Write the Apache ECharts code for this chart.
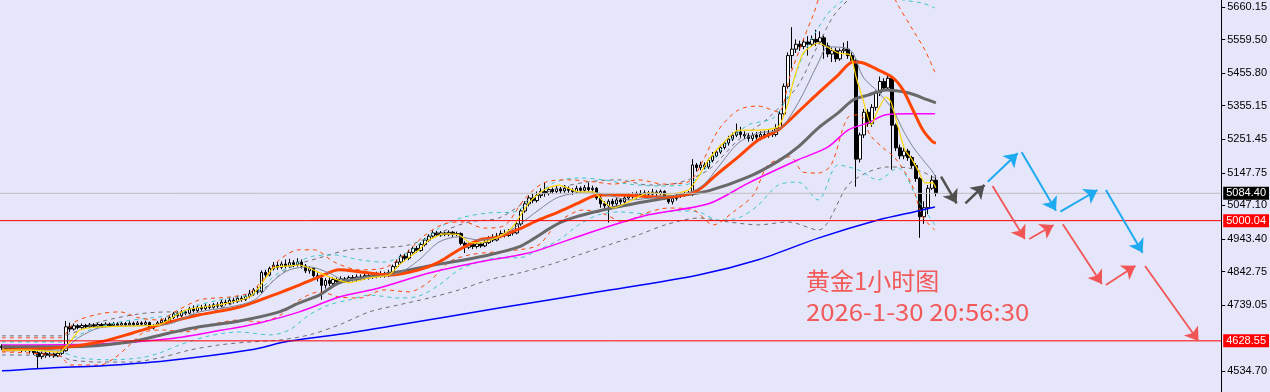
<!DOCTYPE html>
<html>
<head>
<meta charset="utf-8">
<script src="https://cdn.jsdelivr.net/npm/echarts@6.0.0/dist/echarts.min.js"></script>
<style>
html,body{margin:0;padding:0;background:#E6E6FA;}
#chart{width:1270px;height:392px;}
</style>
</head>
<body>
<div id="chart"></div>
<script>
// ---------- DATA ----------
const slotCount = 306; // hourly slots across the plot (235 bars + empty future space)
const categories = Array.from({length: slotCount}, (_, i) => 'H' + i);

// candles: [open, close, low, high]
const candles = [
[4608,4612,4600,4618],[4612,4605,4598,4616],[4605,4610,4600,4615],[4610,4603,4596,4614],[4603,4608,4598,4613],
[4608,4600,4594,4612],[4600,4606,4595,4612],[4606,4598,4590,4610],[4598,4592,4585,4604],[4592,4580,4542,4600],
[4580,4590,4572,4596],[4590,4584,4576,4595],[4584,4588,4578,4594],[4588,4582,4576,4592],[4582,4590,4578,4596],
[4590,4598,4585,4604],[4598,4672,4595,4690],[4672,4665,4655,4685],[4665,4675,4660,4682],[4675,4670,4664,4680],
[4670,4676,4666,4682],[4676,4672,4667,4681],[4672,4678,4668,4684],[4678,4674,4668,4683],[4674,4679,4670,4685],
[4679,4674,4669,4684],[4674,4680,4670,4686],[4680,4676,4671,4685],[4676,4681,4672,4687],[4681,4677,4672,4686],
[4677,4682,4673,4688],[4682,4678,4673,4687],[4678,4683,4674,4689],[4683,4679,4674,4688],[4679,4684,4675,4690],
[4684,4680,4675,4689],[4680,4685,4676,4691],[4685,4668,4664,4688],[4668,4676,4664,4680],[4676,4684,4672,4690],
[4684,4692,4680,4698],[4692,4688,4682,4700],[4688,4700,4684,4706],[4700,4712,4696,4718],[4712,4706,4700,4720],
[4706,4718,4702,4724],[4718,4714,4708,4722],[4714,4728,4710,4734],[4728,4722,4716,4738],[4722,4732,4718,4740],
[4732,4728,4722,4740],[4728,4736,4724,4744],[4736,4732,4726,4742],[4732,4740,4728,4746],[4740,4736,4730,4748],
[4736,4748,4732,4756],[4748,4744,4738,4756],[4744,4754,4740,4762],[4754,4750,4744,4762],[4750,4760,4746,4768],
[4760,4756,4750,4768],[4756,4766,4752,4772],[4766,4774,4760,4786],[4774,4786,4768,4792],[4786,4780,4772,4796],
[4780,4840,4776,4846],[4840,4832,4820,4848],[4832,4852,4828,4858],[4852,4862,4846,4872],[4862,4856,4848,4872],
[4856,4866,4850,4874],[4866,4860,4852,4880],[4860,4870,4854,4882],[4870,4864,4856,4878],[4864,4872,4858,4884],
[4872,4860,4852,4880],[4860,4845,4838,4866],[4845,4852,4836,4858],[4852,4830,4824,4856],[4830,4822,4812,4840],
[4822,4800,4756,4826],[4800,4815,4790,4822],[4815,4806,4798,4825],[4806,4818,4800,4826],[4818,4812,4804,4824],
[4812,4820,4806,4828],[4820,4815,4808,4826],[4815,4824,4810,4830],[4824,4818,4812,4832],[4818,4826,4812,4834],
[4826,4822,4815,4834],[4822,4830,4817,4838],[4830,4825,4818,4836],[4825,4832,4820,4840],[4832,4828,4822,4842],
[4828,4836,4824,4844],[4836,4830,4824,4842],[4830,4840,4826,4848],[4840,4858,4836,4864],[4858,4872,4852,4880],
[4872,4890,4866,4896],[4890,4884,4876,4898],[4884,4902,4878,4910],[4902,4914,4896,4920],[4914,4908,4900,4922],
[4908,4926,4904,4934],[4926,4940,4920,4946],[4940,4952,4934,4958],[4952,4962,4946,4970],[4962,4956,4950,4968],
[4956,4962,4950,4968],[4962,4958,4952,4966],[4958,4964,4952,4970],[4964,4958,4950,4968],[4958,4960,4952,4966],
[4960,4930,4924,4964],[4930,4918,4900,4936],[4918,4926,4912,4932],[4926,4920,4912,4930],[4920,4928,4914,4934],
[4928,4922,4916,4934],[4922,4932,4918,4940],[4932,4946,4928,4952],[4946,4940,4934,4958],[4940,4952,4936,4962],
[4952,4960,4946,4970],[4960,4954,4948,4972],[4954,4966,4950,4974],[4966,4962,4954,4972],[4962,4990,4958,4996],
[4990,5030,4984,5036],[5030,5052,5024,5060],[5052,5070,5044,5078],[5070,5062,5054,5084],[5062,5078,5056,5090],
[5078,5090,5070,5100],[5090,5084,5074,5118],[5084,5096,5078,5104],[5096,5090,5082,5102],[5090,5098,5084,5108],
[5098,5092,5084,5104],[5092,5100,5086,5110],[5100,5094,5086,5106],[5094,5090,5080,5100],[5090,5100,5084,5108],
[5100,5094,5088,5106],[5094,5102,5088,5110],[5102,5096,5088,5118],[5096,5100,5086,5108],[5100,5070,5064,5104],
[5070,5052,5040,5076],[5052,5046,5030,5060],[5046,5060,4994,5066],[5060,5052,5044,5068],[5052,5064,5046,5070],
[5064,5058,5050,5068],[5058,5070,5052,5076],[5070,5078,5064,5084],[5078,5074,5068,5088],[5074,5084,5068,5090],
[5084,5080,5074,5094],[5080,5086,5076,5094],[5086,5082,5076,5092],[5082,5088,5078,5098],[5088,5084,5076,5094],
[5084,5090,5078,5096],[5090,5070,5064,5094],[5070,5058,5052,5076],[5058,5068,5050,5074],[5068,5076,5062,5082],
[5076,5080,5070,5088],[5080,5084,5074,5090],[5084,5082,5076,5092],[5082,5172,5076,5190],[5172,5164,5152,5178],
[5164,5172,5156,5182],[5172,5166,5158,5180],[5166,5186,5160,5192],[5186,5200,5180,5212],[5200,5212,5196,5220],
[5212,5226,5206,5234],[5226,5240,5220,5246],[5240,5252,5232,5262],[5252,5264,5246,5272],[5264,5274,5258,5300],
[5274,5266,5256,5290],[5266,5262,5252,5276],[5262,5254,5244,5270],[5254,5264,5246,5272],[5264,5258,5250,5274],
[5258,5266,5248,5276],[5266,5262,5254,5278],[5262,5270,5256,5282],[5270,5266,5258,5280],[5266,5284,5260,5298],
[5284,5330,5278,5340],[5330,5415,5324,5424],[5415,5510,5408,5520],[5510,5530,5470,5598],[5530,5545,5518,5560],
[5545,5538,5525,5556],[5538,5552,5530,5562],[5552,5545,5510,5570],[5545,5560,5538,5572],[5560,5552,5540,5590],
[5552,5565,5545,5585],[5565,5540,5500,5572],[5540,5515,5505,5550],[5515,5525,5490,5535],[5525,5500,5490,5535],
[5500,5525,5494,5532],[5525,5530,5515,5550],[5530,5510,5500,5555],[5510,5495,5488,5520],[5495,5190,5105,5500],
[5190,5265,5180,5272],[5265,5335,5255,5345],[5335,5300,5290,5345],[5300,5350,5290,5360],[5350,5395,5340,5402],
[5395,5430,5385,5445],[5430,5410,5400,5440],[5410,5440,5402,5450],[5440,5295,5157,5446],[5295,5225,5215,5300],
[5225,5200,5190,5235],[5200,5215,5190,5225],[5215,5195,5185,5222],[5195,5170,5160,5200],[5170,5130,5120,5178],
[5130,5012,4947,5135],[5012,5040,4990,5060],[5040,5100,5020,5110],[5100,5125,5095,5140],[5125,5084.4,5075,5140]
];

// indicator lines: [bar index, price]
const yellowMA = [[0,4600],[7,4600],[14.5,4594],[17,4625],[19.5,4662],[24.5,4672],[34.5,4675],[39.5,4678],[46,4724],[54.5,4740],[62,4764],[64.5,4795],[68,4854],[72,4860],[74.5,4863],[78,4848],[82,4826],[87,4808],[92,4823],[97,4832],[99.5,4863],[104.5,4910],[107,4940],[110.75,4959],[114.5,4956],[117,4934],[119.5,4931],[124.5,4950],[128,4981],[132,5055],[135.75,5095],[139.5,5110],[144.5,5089],[148.25,5089],[150.75,5058],[153.25,5039],[157,5058],[162,5086],[167,5082],[172,5095],[174.5,5135],[177,5188],[180.75,5240],[184.5,5280],[189.5,5280],[194.5,5290],[197,5364],[198.25,5429],[200.75,5518],[204.5,5549],[209.5,5518],[212.5,5512],[214,5444],[215.75,5373],[217.75,5296],[219.5,5342],[221.5,5382],[222.75,5367],[224.5,5290],[226.25,5218],[227.75,5194],[229.5,5157],[231.25,5117],[233.25,5117],[234,5101]];
const grayMA = [[0,4600],[14.5,4600],[19.5,4641],[24.5,4669],[32,4675],[40.75,4678],[49.5,4718],[57,4733],[63.25,4755],[68.25,4817],[72,4848],[77,4857],[82,4838],[85.75,4817],[92,4826],[99.5,4838],[104.5,4879],[109.5,4934],[114.5,4950],[119.5,4940],[124.5,4950],[129.5,4987],[134.5,5033],[139.5,5073],[147,5089],[152,5079],[157,5064],[164.5,5073],[172,5086],[175.75,5110],[179.5,5166],[184.5,5240],[189.5,5271],[194.5,5280],[199.5,5364],[204.5,5487],[207,5537],[211.25,5534],[213.25,5518],[215.75,5444],[219.5,5398],[223.25,5342],[225.75,5280],[228.25,5228],[230.75,5188],[233.25,5150],[234,5132]];
const orangeMA = [[0,4600],[14.5,4607],[24.5,4625],[32.75,4653],[41.25,4684],[49.5,4709],[59.5,4733],[69.5,4777],[74.5,4801],[79.5,4826],[84.5,4848],[89.5,4842],[97,4832],[104.5,4848],[109.5,4872],[114.5,4910],[119.5,4940],[124.5,4950],[129.5,4974],[134.5,5002],[139.5,5027],[144.5,5055],[149.5,5079],[154.5,5079],[164.5,5073],[169.5,5076],[174.5,5095],[179.5,5147],[184.5,5197],[189.5,5249],[194.5,5280],[199.5,5336],[204.5,5394],[209.5,5450],[213.25,5490],[215.75,5487],[219.5,5466],[223.25,5441],[225.75,5404],[228.25,5342],[230.75,5280],[233.25,5243],[234,5240]];
const dimMA = [[0,4610],[16.25,4610],[32,4625],[42,4653],[49.5,4672],[59.5,4690],[69.5,4718],[74.5,4746],[79.5,4770],[84.5,4808],[92,4826],[99.5,4842],[107,4860],[114.5,4876],[122,4894],[129.5,4919],[132,4935],[140.25,4996],[149.5,5030],[159.5,5055],[169.5,5076],[177,5092],[187,5135],[194.5,5184],[199.5,5228],[204.5,5286],[209.5,5333],[213.25,5373],[217,5388],[221.5,5404],[227,5395],[232,5373],[234,5364]];
const magentaMA = [[0,4616],[24.5,4619],[42,4635],[55.25,4662],[64.5,4684],[74.5,4718],[84.5,4764],[94.5,4792],[107,4838],[119.5,4872],[129.5,4894],[134.5,4909],[147.75,4965],[162,5018],[177,5052],[187,5116],[199.5,5188],[207,5228],[212,5280],[217,5302],[221.5,5327],[227,5330],[233.75,5330]];
const blueMA = [[0,4536],[12,4545],[24.5,4551],[41.25,4567],[62,4600],[72,4628],[87,4653],[99.5,4678],[124.5,4730],[149.5,4780],[174.5,4832],[189.5,4879],[204.5,4946],[219.5,5002],[229.5,5030],[233.75,5042]];

const orangeUpper = [[0,4638],[14.5,4638],[18.25,4687],[24.5,4712],[29.5,4718],[34.5,4699],[39.5,4693],[43.25,4718],[49.5,4755],[57,4764],[62,4777],[65.75,4823],[69.5,4879],[74.5,4910],[78.25,4910],[83.25,4872],[89.5,4848],[95.75,4854],[100.75,4894],[105.75,4953],[110.75,4990],[115.75,4996],[120.75,4977],[125.75,4984],[130.75,5064],[135.75,5117],[142,5126],[148.25,5120],[153.25,5113],[159.5,5126],[165.75,5113],[172,5120],[175.75,5188],[179.5,5280],[184.5,5342],[189.5,5354],[194.5,5336],[197.5,5450],[200.75,5558],[203.25,5635],[205.75,5713],[212,5774],[219.5,5774],[224.5,5666],[228.25,5589],[231.25,5527],[233.75,5459]];
const orangeLower = [[0,4594],[14.5,4582],[17,4554],[24.5,4554],[28.25,4576],[32,4616],[35.75,4656],[40.75,4662],[45.75,4656],[52,4678],[59.5,4693],[64.5,4687],[69.5,4706],[74.5,4755],[79.5,4780],[84.5,4764],[89.5,4761],[95.75,4786],[102,4780],[107,4811],[112,4872],[117,4894],[123.25,4903],[129.5,4910],[134.5,4925],[139.5,4996],[145.75,5033],[150.75,5021],[155.75,4996],[160.75,5021],[167,5039],[173.25,5033],[178.25,4987],[183.25,5027],[188.25,5079],[192,5172],[197.5,5197],[200.75,5150],[204.5,5147],[207.75,5172],[212,5320],[215,5327],[217.5,5265],[220.75,5225],[223.75,5194],[227.75,5117],[230.75,5011],[233.75,4971]];
const cyanUpper = [[0,4625],[14.5,4625],[22,4662],[29.5,4687],[37,4699],[44.5,4712],[49.5,4740],[57,4761],[63.25,4774],[68.25,4829],[73.25,4866],[78.25,4891],[83.25,4894],[89.5,4879],[95.75,4872],[100.75,4894],[105.75,4940],[110.75,4987],[115.75,5011],[122,5024],[128.25,5027],[133.25,5070],[138.25,5117],[144.5,5132],[150.75,5126],[157,5113],[164.5,5107],[172,5113],[177,5172],[182,5243],[187,5296],[193.25,5317],[197,5388],[200.75,5512],[204.5,5595],[208.25,5657],[214.5,5697],[222,5697],[225.75,5682],[230.75,5672],[233.75,5657]];
const cyanLower = [[0,4600],[14.5,4594],[19.5,4576],[27,4570],[34.5,4576],[39.5,4591],[44.5,4616],[52,4644],[59.5,4656],[67,4647],[72,4662],[77,4709],[82,4740],[87,4755],[92,4770],[99.5,4761],[104.5,4767],[109.5,4801],[114.5,4848],[119.5,4872],[124.5,4885],[129.5,4885],[134.5,4910],[139.5,4940],[144.5,4987],[149.5,5018],[154.5,5027],[162,5021],[169.5,5030],[174.5,5027],[179.5,5002],[184.5,5008],[189.5,5048],[194.5,5110],[199.5,5119],[204.5,5064],[209.5,5172],[214.5,5157],[219.5,5126],[224.5,5163],[229.5,5064],[233.75,4987]];
const grayUpper = [[0,4644],[14.5,4644],[24.5,4687],[34.5,4712],[42,4718],[49.5,4709],[57,4740],[64.5,4780],[72,4854],[79.5,4885],[87,4910],[94.5,4916],[102,4925],[109.5,4962],[117,4996],[124.5,5008],[132,5064],[139.5,5101],[147,5120],[154.5,5126],[162,5110],[169.5,5117],[177,5157],[184.5,5249],[192,5317],[199.5,5419],[204.5,5543],[209.5,5651],[217,5713],[227,5713],[233.75,5697]];
const grayLower = [[0,4585],[14.5,4582],[17,4570],[24.5,4563],[32,4563],[39.5,4576],[47,4600],[54.5,4616],[62,4625],[69.5,4631],[77,4647],[84.5,4678],[92,4718],[99.5,4740],[107,4761],[114.5,4786],[122,4817],[129.5,4838],[137,4863],[144.5,4894],[152,4925],[159.5,4956],[167,4990],[174.5,5008],[182,4996],[189.5,4987],[197,4996],[204.5,4971],[212,5110],[217,5150],[222,5166],[227,5163],[230.75,5150],[233.75,5132]];

// forecast arrows: [[fromIndex, fromPrice], [toIndex, toPrice]]
const grayArrows = [[[235.3,5135.8],[239.2,5053.6]], [[241.4,5053.6],[246.2,5110.1]]];
const blueArrows = [[[247.0,5120.3],[254.5,5208.1]], [[255.5,5211.2],[264.1,5030.7]], [[265.2,5027.6],[274.5,5094.7]], [[276.6,5094.7],[285.8,4901.0]]];
const redArrows = [[[248.2,5107.1],[256.3,4943.3]], [[257.4,4943.3],[263.5,4986.5]], [[265.8,4988.7],[275.6,4804.2]], [[276.6,4801.1],[284.0,4860.8]], [[286.4,4859.9],[299.8,4628.1]]];

// price levels
const bidPrice = 5084.40;
const levelPrices = [5000.04, 4628.55];

// y tick labels (right axis)
const yTicks = [5660.15, 5559.50, 5455.80, 5355.15, 5251.45, 5147.75, 5047.10, 4943.40, 4842.75, 4739.05, 4534.70];

const titleText = '黄金1小时图';
const timeText = '2026-1-30 20:56:30';

// ---------- CHART ----------
const chart = echarts.init(document.getElementById('chart'), null, {renderer: 'canvas'});
const labelFont = '"Liberation Sans Narrow","Liberation Sans",Arial,sans-serif';

function lineSeries(data, color, width, dashed, smooth) {
  return {
    type: 'line', xAxisIndex: 1, yAxisIndex: 0, data: data,
    showSymbol: false, symbol: 'none', smooth: smooth, silent: true,
    lineStyle: {color: color, width: width, type: dashed ? [4, 4] : 'solid'},
    animation: false
  };
}
function levelSeries(price, color, boxColor) {
  return {
    type: 'line', xAxisIndex: 1, yAxisIndex: 0, silent: true, animation: false,
    showSymbol: false, symbol: 'none', z: 6,
    data: [[-0.5, price], [slotCount - 0.5, price]],
    lineStyle: {color: color, width: 1, type: 'solid'},
    endLabel: {show: true, distance: 2, formatter: price.toFixed(2), color: '#FFFFFF',
      backgroundColor: boxColor, padding: [1, 3, 0, 3], fontSize: 11, fontFamily: labelFont, lineHeight: 12}
  };
}
function arrowSeries(list, color, width) {
  return {
    type: 'lines', coordinateSystem: 'cartesian2d', xAxisIndex: 1, yAxisIndex: 0,
    symbol: ['none', 'arrow'], symbolSize: [9, 13], silent: true, animation: false, z: 10,
    lineStyle: {color: color, width: width, opacity: 1},
    data: list.map(c => ({coords: c}))
  };
}

const option = {
  backgroundColor: '#E6E6FA',
  animation: false,
  grid: {left: 0, right: 48, top: 0, bottom: 0, containLabel: false},
  xAxis: [
    {type: 'category', data: categories, boundaryGap: true, show: false},
    {type: 'value', min: -0.5, max: slotCount - 0.5, show: false}
  ],
  yAxis: [{
    type: 'value', position: 'right', min: 4470.5, max: 5681.8, scale: true,
    splitLine: {show: false},
    axisLine: {show: true, onZero: false, lineStyle: {color: '#000', width: 1}},
    axisTick: {show: true, inside: false, length: 4, customValues: yTicks, lineStyle: {color: '#000'}},
    axisLabel: {show: true, customValues: yTicks, margin: 6, color: '#000', fontSize: 11,
      fontFamily: labelFont, formatter: v => v.toFixed(2)}
  }],
  series: [
    levelSeries(bidPrice, '#BEBEBE', '#000000'),
    {
      type: 'candlestick', xAxisIndex: 0, yAxisIndex: 0, data: candles, barWidth: 3,
      itemStyle: {color: '#FFFFFF', color0: '#000000', borderColor: '#000000', borderColor0: '#000000', borderWidth: 1}
    },
    lineSeries(grayUpper, '#6E6E6E', 1, true, 0.3),
    lineSeries(grayLower, '#6E6E6E', 1, true, 0.3),
    lineSeries(cyanUpper, '#3CC8C8', 1, true, 0.3),
    lineSeries(cyanLower, '#3CC8C8', 1, true, 0.3),
    lineSeries(orangeUpper, '#FF4500', 1, true, 0.3),
    lineSeries(orangeLower, '#FF4500', 1, true, 0.3),
    lineSeries(blueMA, '#0000FF', 1.5, false, 0.3),
    lineSeries(magentaMA, '#FF00FF', 1.5, false, 0.3),
    lineSeries(dimMA, '#696969', 3, false, 0.3),
    lineSeries(orangeMA, '#FF4500', 3, false, 0.3),
    lineSeries(grayMA, '#7C8595', 1, false, 0.3),
    lineSeries(yellowMA, '#FFD700', 1.2, false, 0.2),
    levelSeries(levelPrices[0], '#FF0000', '#FF0000'),
    levelSeries(levelPrices[1], '#FF0000', '#FF0000'),
    arrowSeries(grayArrows, '#505050', 2.5),
    arrowSeries(blueArrows, '#1EAAF1', 2),
    arrowSeries(redArrows, '#F25555', 1.8)
  ],
  graphic: [
    {type: 'text', left: 806, top: 269, silent: true,
      style: {text: titleText, fill: '#F25A5A', font: '24px "Noto Sans CJK SC", sans-serif'}},
    {type: 'text', x: 806, y: 300, scaleX: 1.07, silent: true,
      style: {text: timeText, fill: '#F25A5A', font: '24px "Noto Sans CJK SC", sans-serif'}}
  ]
};
chart.setOption(option);
</script>
</body>
</html>
